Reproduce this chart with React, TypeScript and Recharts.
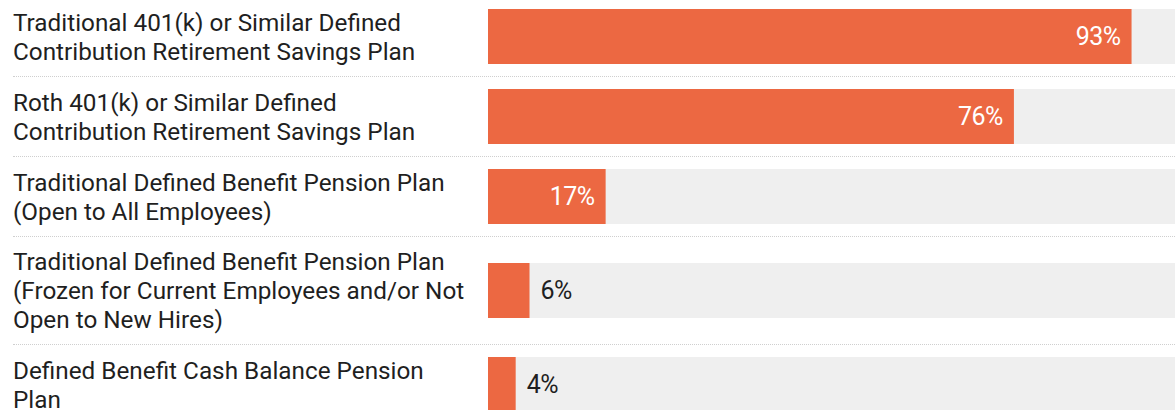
import { Bar, BarChart, XAxis, YAxis } from "recharts";

const CATEGORIES = [
  "Traditional 401(k) or Similar Defined Contribution Retirement Savings Plan",
  "Roth 401(k) or Similar Defined Contribution Retirement Savings Plan",
  "Traditional Defined Benefit Pension Plan (Open to All Employees)",
  "Traditional Defined Benefit Pension Plan (Frozen for Current Employees and/or Not Open to New Hires)",
  "Defined Benefit Cash Balance Pension Plan",
];

// wrapped tick labels, one array of lines per category
const TICK_LINES = [
  ["Traditional 401(k) or Similar Defined", "Contribution Retirement Savings Plan"],
  ["Roth 401(k) or Similar Defined", "Contribution Retirement Savings Plan"],
  ["Traditional Defined Benefit Pension Plan", "(Open to All Employees)"],
  [
    "Traditional Defined Benefit Pension Plan",
    "(Frozen for Current Employees and/or Not",
    "Open to New Hires)",
  ],
  ["Defined Benefit Cash Balance Pension", "Plan"],
];

const VALUES = [93, 76, 17, 6, 4];

const BAR_COLOR = "#ec6842";
const TRACK_COLOR = "#efefef";
const TEXT_COLOR = "#1f1f1f";
const FONT = "Roboto, 'Noto Sans', sans-serif";
const LINE_H = 29;

const CHART_W = 1180;
const LABEL_W = 488;

function MultiLineTick({ y, lines }: any) {
  const first = -((lines.length - 1) * LINE_H) / 2 + 8.5;
  return (
    <text x={13} y={y} fontSize={24.3} fill={TEXT_COLOR} fontFamily={FONT}>
      {lines.map((line: string, i: number) => (
        <tspan key={i} x={13} dy={i === 0 ? first : LINE_H}>
          {line}
        </tspan>
      ))}
    </text>
  );
}

function ValueLabel({ x, y, width, height, value }: any) {
  const inside = value >= 15;
  const cy = y + height / 2 + 8.5;
  return (
    <text
      x={inside ? x + width - 11 : x + width + 11}
      y={cy}
      textAnchor={inside ? "end" : "start"}
      fontSize={25}
      letterSpacing={-0.5}
      fill={inside ? "#ffffff" : TEXT_COLOR}
      fontFamily={FONT}
    >
      {`${value}%`}
    </text>
  );
}

function PlanRow({ index }: { index: number }) {
  const lines = TICK_LINES[index];
  const height = 28 * lines.length + 23;
  const data = [{ name: CATEGORIES[index], value: VALUES[index] }];
  return (
    <div>
      <BarChart
        width={CHART_W}
        height={height}
        data={data}
        layout="vertical"
        margin={{ top: 0, right: 0, bottom: 0, left: 0 }}
      >
        <XAxis type="number" domain={[0, 100]} hide />
        <YAxis
          type="category"
          dataKey="name"
          width={LABEL_W}
          axisLine={false}
          tickLine={false}
          tick={(props: any) => <MultiLineTick {...props} lines={lines} />}
        />
        <Bar
          dataKey="value"
          fill={BAR_COLOR}
          barSize={55}
          background={{ fill: TRACK_COLOR }}
          label={<ValueLabel />}
          isAnimationActive={false}
        />
      </BarChart>
      <div
        style={{
          marginLeft: 13,
          height: 0,
          borderTop: "1px dotted #cfcfcf",
        }}
      />
    </div>
  );
}

export default function App() {
  return (
    <div
      style={{
        position: "absolute",
        left: 0,
        top: -3,
        width: 1175,
        height: 413,
        overflow: "hidden",
        background: "#fff",
      }}
    >
      {VALUES.map((_, i) => (
        <PlanRow key={i} index={i} />
      ))}
    </div>
  );
}
